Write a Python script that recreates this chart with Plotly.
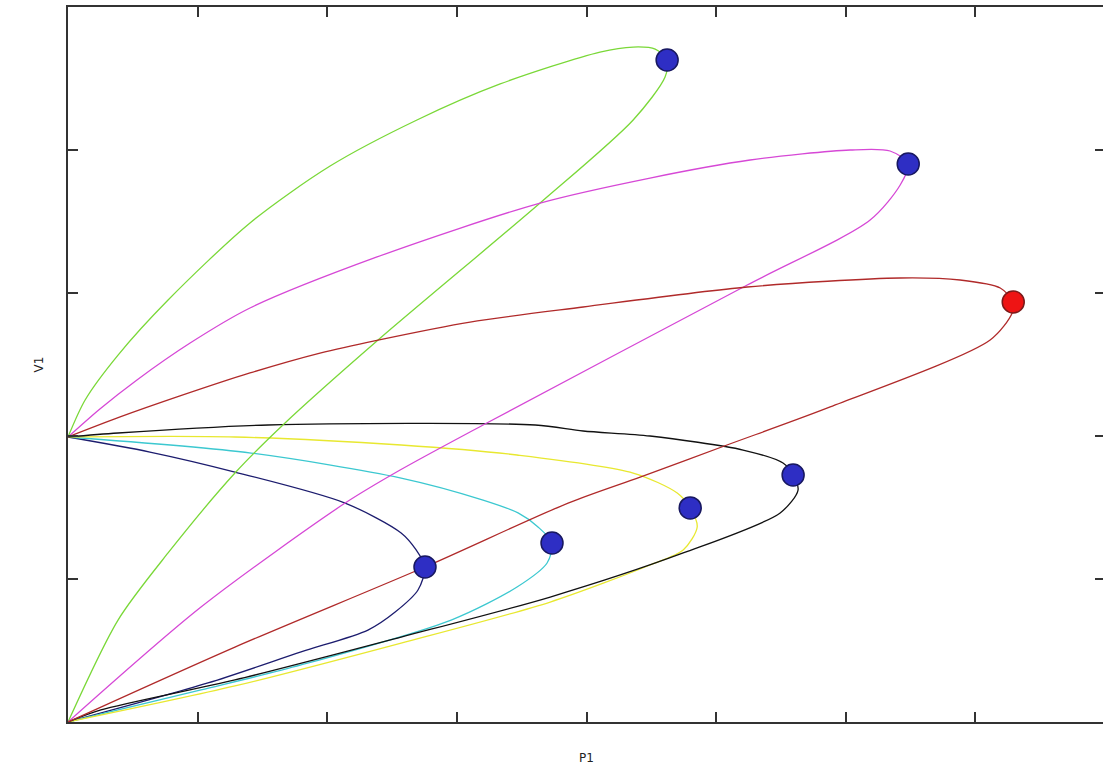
import plotly.graph_objects as go

# ---- data (P1, V1) for each loop ----
green_p1 = [0, 0.066, 0.193, 0.386, 0.702, 1.011, 1.346, 1.667, 2.052, 2.180, 2.265, 2.311,
            2.303, 2.180, 1.821, 1.196, 0.829, 0.644, 0.386, 0.193, 0]
green_v1 = [1.993, 2.252, 2.566, 2.951, 3.490, 3.888, 4.210, 4.462, 4.685, 4.720, 4.706, 4.629,
            4.510, 4.210, 3.629, 2.671, 2.077, 1.741, 1.182, 0.713, 0]

magenta_p1 = [0, 0.123, 0.266, 0.471, 0.702, 1.192, 1.821, 2.245, 2.631, 3.017, 3.171, 3.241,
              3.210, 3.094, 2.620, 1.601, 1.281, 1.069, 0.513, 0]
magenta_v1 = [1.993, 2.189, 2.392, 2.650, 2.895, 3.252, 3.629, 3.804, 3.930, 4.000, 3.993, 3.902,
              3.755, 3.510, 3.056, 2.077, 1.762, 1.531, 0.804, 0]

red_p1 = [0, 0.201, 0.432, 0.702, 0.972, 1.196, 1.551, 1.987, 2.620, 3.210, 3.441, 3.596, 3.646,
          3.642, 3.557, 2.940, 2.542, 2.207, 1.929, 1.377, 0.644, 0]
red_v1 = [1.993, 2.133, 2.280, 2.441, 2.580, 2.671, 2.797, 2.902, 3.042, 3.105, 3.091, 3.035, 2.937,
          2.860, 2.671, 2.203, 1.937, 1.713, 1.531, 1.084, 0.524, 0]

black_p1 = [0, 0.193, 0.772, 1.802, 1.987, 2.245, 2.604, 2.758, 2.797,
            2.816, 2.747, 2.373, 1.860, 1.285, 0.644, 0.127, 0]
black_v1 = [1.993, 2.021, 2.077, 2.077, 2.035, 2.000, 1.902, 1.811, 1.727,
            1.622, 1.462, 1.182, 0.874, 0.594, 0.294, 0.084, 0]

yellow_p1 = [0, 0.644, 1.285, 1.732, 2.180, 2.350, 2.400,
             2.427, 2.373, 2.245, 1.860, 1.285, 0.644, 0]
yellow_v1 = [1.993, 1.993, 1.937, 1.867, 1.741, 1.601, 1.497,
             1.364, 1.203, 1.098, 0.839, 0.552, 0.252, 0]

cyan_p1 = [0, 0.706, 1.285, 1.601, 1.736, 1.813, 1.867,
           1.848, 1.732, 1.478, 0.899, 0.513, 0]
cyan_v1 = [1.993, 1.881, 1.706, 1.552, 1.462, 1.364, 1.252,
           1.112, 0.944, 0.713, 0.399, 0.224, 0]

navy_p1 = [0, 0.316, 0.644, 1.069, 1.285, 1.343, 1.377,
           1.350, 1.262, 1.157, 0.899, 0.540, 0]
navy_v1 = [1.993, 1.888, 1.748, 1.531, 1.322, 1.203, 1.084,
           0.923, 0.769, 0.643, 0.490, 0.273, 0]

# turning points (dots)
blue_dot_p1 = [2.311, 3.241, 2.797, 2.400, 1.867, 1.377]
blue_dot_v1 = [4.629, 3.902, 1.727, 1.497, 1.252, 1.084]
red_dot_p1 = [3.646]
red_dot_v1 = [2.937]

x_ticks = [0, 0.5, 1, 1.5, 2, 2.5, 3, 3.5, 4]
y_ticks = [0, 1, 2, 3, 4, 5]

series = [
    ("navy", navy_p1, navy_v1, "#1c1c6e"),
    ("cyan", cyan_p1, cyan_v1, "#3cc8d0"),
    ("yellow", yellow_p1, yellow_v1, "#e8e830"),
    ("black", black_p1, black_v1, "#111111"),
    ("green", green_p1, green_v1, "#7ad838"),
    ("magenta", magenta_p1, magenta_v1, "#d648d6"),
    ("red", red_p1, red_v1, "#b02a2a"),
]

fig = go.Figure()
for name, xs, ys, col in series:
    fig.add_trace(go.Scatter(x=xs, y=ys, mode="lines", name=name,
                             line=dict(color=col, width=1.3, shape="spline", smoothing=0.8),
                             hoverinfo="skip"))

fig.add_trace(go.Scatter(x=blue_dot_p1, y=blue_dot_v1, mode="markers",
                         marker=dict(size=22, color="#2e2ec4",
                                     line=dict(color="#181860", width=1.5))))
fig.add_trace(go.Scatter(x=red_dot_p1, y=red_dot_v1, mode="markers",
                         marker=dict(size=22, color="#ee1414",
                                     line=dict(color="#7a1a1a", width=1.5))))

axis_common = dict(showline=True, linecolor="#333333", linewidth=2, mirror="ticks",
                   ticks="inside", ticklen=10, tickwidth=1.5, tickcolor="#333333",
                   showgrid=False, zeroline=False, showticklabels=False, automargin=False)

fig.update_layout(
    width=1105, height=769,
    margin=dict(l=68, r=0, t=7, b=47),
    paper_bgcolor="white", plot_bgcolor="white",
    showlegend=False,
    font=dict(family="DejaVu Sans", size=12, color="#222222"),
    xaxis=dict(range=[0, 4], tickvals=x_ticks,
               title=dict(text="P1", standoff=31, font=dict(size=12)), **axis_common),
    yaxis=dict(range=[0, 5], tickvals=y_ticks,
               title=dict(text="V1", standoff=20, font=dict(size=12)), **axis_common),
)

fig.write_html("out.html", config={"displayModeBar": False},
               post_script="document.body.style.margin='0';document.body.style.overflow='hidden';")
